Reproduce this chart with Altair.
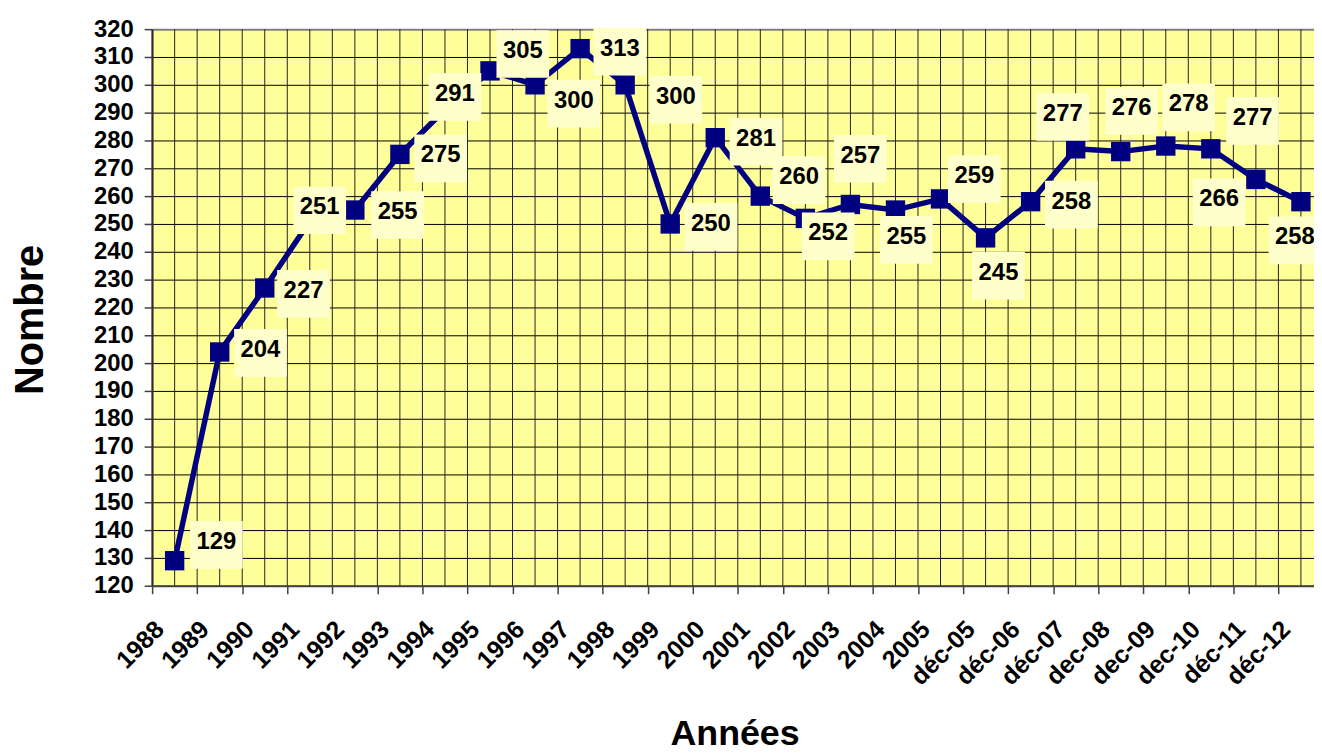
import altair as alt
import pandas as pd

# ---- data ----
categories = ["1988", "1989", "1990", "1991", "1992", "1993", "1994", "1995",
              "1996", "1997", "1998", "1999", "2000", "2001", "2002", "2003",
              "2004", "2005", "déc-05", "déc-06", "déc-07", "dec-08", "dec-09",
              "dec-10", "déc-11", "déc-12"]
values = [129, 204, 227, 251, 255, 275, 291, 305, 300, 313, 300, 250, 281,
          260, 252, 257, 255, 259, 245, 258, 277, 276, 278, 277, 266, 258]
# data-label offsets (pixels, right / down) relative to each point
label_dx = [42, 41, 39, 10, 43, 41, 10, 33, 39, 40, 51, 41, 41,
            39, 23, 10, 11, 34, 13, 41, -13, 11, 23, 42, -37, -6]
label_dy = [-16, 1, 6, -11, 5, 4, -13, -17, 19, 3, 15, 3, 4,
            -16, 18, -46, 30, -20, 38, 3, -32, -41, -39, -28, 23, 39]
y_ticks = list(range(120, 321, 10))

FONT = "Liberation Sans"
W, H = 1169, 560
X_MAX = 25.79
px_x = W / X_MAX
px_y = H / (y_ticks[-1] - y_ticks[0])

df = pd.DataFrame({"cat": categories, "value": values,
                   "dx": label_dx, "dy": label_dy})
df["pos"] = df.index + 0.5
df["lx"] = df["pos"] + df["dx"] / px_x
df["ly"] = df["value"] - df["dy"] / px_y

grid_df = pd.DataFrame({"g": [i * 0.5 for i in range(2 * len(categories))]})

names_js = "[" + ",".join("'%s'" % c for c in categories) + "]"

xscale = alt.Scale(domain=[0, X_MAX], nice=False, zero=False)
yscale = alt.Scale(domain=[y_ticks[0], y_ticks[-1]], nice=False, zero=False)

x_axis = alt.Axis(
    values=list(range(len(categories))),
    labelExpr=names_js + "[datum.value]",
    labelAngle=315, labelAlign="right", labelBaseline="alphabetic",
    labelPadding=37, labelOffset=13, labelOverlap=False, labelFlush=False,
    labelBound=False, labelLimit=400,
    labelFont=FONT, labelFontSize=25, labelFontWeight="bold", labelColor="black",
    tickSize=8, tickColor="#404040", tickWidth=1.5,
    domainColor="#404040", domainWidth=2, grid=False,
    title="Années", titleFont=FONT, titleFontSize=36, titleFontWeight="bold",
    titleColor="black", titleX=586, titleY=160, titleAlign="center",
    titleBaseline="alphabetic", titleAngle=0,
)
y_axis = alt.Axis(
    values=y_ticks, grid=True, tickCount=len(y_ticks),
    gridColor={"condition": {"test": "datum.value === 320", "value": "#808080"},
               "value": "black"},
    gridWidth={"condition": {"test": "datum.value === 320", "value": 2},
               "value": 1},
    labelFont=FONT, labelFontSize=24, labelFontWeight="bold", labelColor="black",
    labelPadding=11, tickSize=8, tickColor="#404040", tickWidth=1.5,
    domainColor="#404040", domainWidth=2, labelOverlap=False, labelFlush=False,
    title="Nombre", titleFont=FONT, titleFontSize=40, titleFontWeight="bold",
    titleColor="black", titleX=-110, titleY=292, titleAngle=270,
    titleAlign="center", titleBaseline="alphabetic",
)

X = lambda f: alt.X(f, scale=xscale, axis=x_axis)
Y = lambda f: alt.Y(f, scale=yscale, axis=y_axis)

base = alt.Chart(df)
vgrid = alt.Chart(grid_df).mark_rule(color="#222222", strokeWidth=1).encode(
    x=X("g:Q")
)
line = base.mark_line(color="#000080", strokeWidth=5.5).encode(
    x=X("pos:Q"), y=Y("value:Q"),
)
points = base.mark_point(shape="square", filled=True, size=380,
                         color="#000080", opacity=1).encode(
    x=X("pos:Q"), y=Y("value:Q"),
)
boxes = base.mark_point(shape="M-1,-0.906L1,-0.906L1,0.906L-1,0.906Z",
                        filled=True, size=2809, color="#FFFFCC",
                        opacity=1, strokeWidth=0).encode(
    x=X("lx:Q"), y=Y("ly:Q"),
)
texts = base.mark_text(font=FONT, fontSize=24, fontWeight="bold",
                       color="black", align="center", baseline="middle",
                       dy=-3).encode(
    x=X("lx:Q"), y=Y("ly:Q"), text="value:Q",
)

chart = alt.layer(vgrid, line, points, boxes, texts).properties(
    width=W, height=H,
    autosize=alt.AutoSizeParams(type="none"),
    padding={"left": 145, "top": 19, "right": 0, "bottom": 165},
).configure_view(
    fill="#FFFF99", stroke="transparent"
)

chart.save("out.html", embed_options={"renderer": "svg", "actions": False})
